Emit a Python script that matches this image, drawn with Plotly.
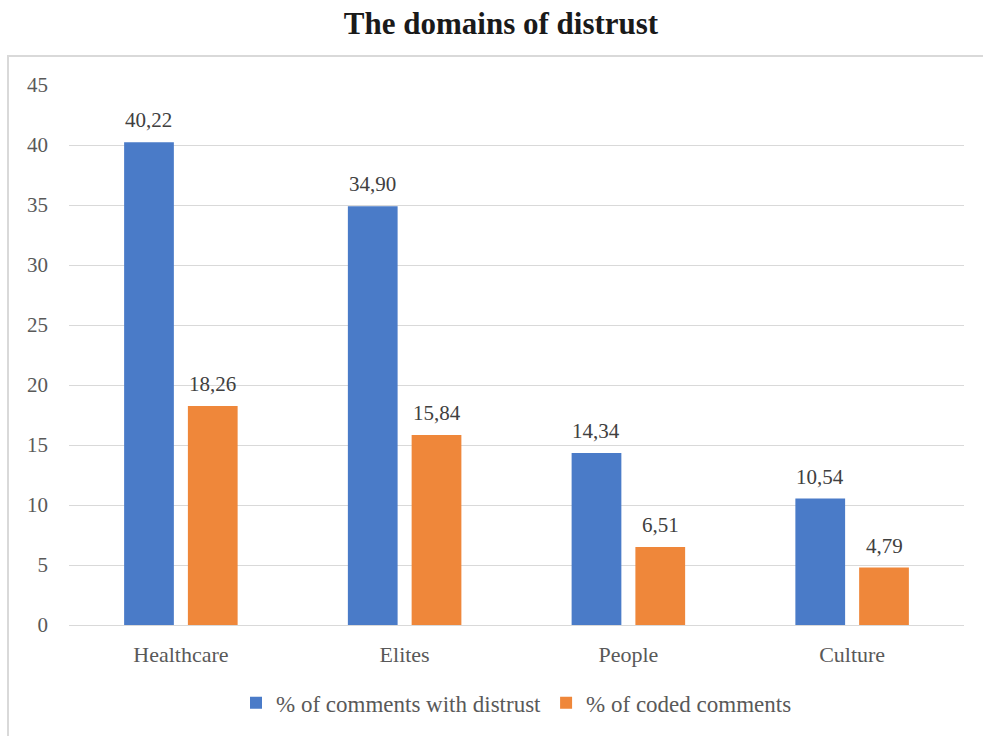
import plotly.graph_objects as go

categories = ["Healthcare", "Elites", "People", "Culture"]
distrust = [40.22, 34.90, 14.34, 10.54]
coded = [18.26, 15.84, 6.51, 4.79]
series_names = ["% of comments with distrust", "% of coded comments"]
y_ticks = [0, 5, 10, 15, 20, 25, 30, 35, 40, 45]

BLUE = "#4a7bc8"
ORANGE = "#ef873a"
SERIF = "Liberation Serif"

W, H = 983, 736
ML, MR, MT, MB = 69, 19, 85, 109
pw, ph = W - ML - MR, H - MT - MB

fig = go.Figure()
fig.add_trace(go.Bar(x=categories, y=distrust, name=series_names[0],
                     marker=dict(color=BLUE, line=dict(width=0))))
fig.add_trace(go.Bar(x=categories, y=coded, name=series_names[1],
                     marker=dict(color=ORANGE, line=dict(width=0))))

bargap = 0.43
bargroupgap = 0.22
cat_w = pw / len(categories)
group_w = cat_w * (1 - bargap)
for vals, sgn in ((distrust, -1), (coded, 1)):
    for c, v in zip(categories, vals):
        fig.add_annotation(x=c, y=v, text=f"{v:.2f}".replace(".", ","),
                           showarrow=False, xshift=sgn * group_w / 4, yshift=22,
                           font=dict(family=SERIF, size=21, color="#404040"))

# outer chart border
fig.add_shape(type="rect", xref="paper", yref="paper",
              x0=(8 - ML) / pw, x1=(990 - ML) / pw,
              y0=-(745 - (H - MB)) / ph, y1=1 + (MT - 56) / ph,
              line=dict(color="#d9d9d9", width=2), fillcolor="rgba(0,0,0,0)", layer="below")

fig.update_layout(
    width=W, height=H,
    margin=dict(l=ML, r=MR, t=MT, b=MB),
    paper_bgcolor="white", plot_bgcolor="white",
    barmode="group", bargap=bargap, bargroupgap=bargroupgap,
    separators=",.",
    title=dict(text="<b>The domains of distrust</b>", x=501 / W, xanchor="center",
               y=1 - 23 / H, yanchor="middle",
               font=dict(family=SERIF, size=31, color="#1a1a1a")),
    xaxis=dict(showgrid=False, showline=False, ticks="", zeroline=False,
               ticklabelstandoff=14,
               tickfont=dict(family=SERIF, size=22, color="#595959")),
    yaxis=dict(range=[0, 45], tickvals=y_ticks, showgrid=True, gridcolor="#d9d9d9",
               gridwidth=1, zeroline=True, zerolinecolor="#d9d9d9", zerolinewidth=1,
               showline=False, ticks="", ticklabelstandoff=20,
               tickfont=dict(family=SERIF, size=21, color="#595959")),
    legend=dict(orientation="h", x=0.5, xanchor="center", y=-(705 - (H - MB)) / ph,
                yanchor="middle", font=dict(family=SERIF, size=23, color="#595959"),
                itemwidth=30, traceorder="normal"),
    showlegend=True,
)

fig.write_html("out.html")
